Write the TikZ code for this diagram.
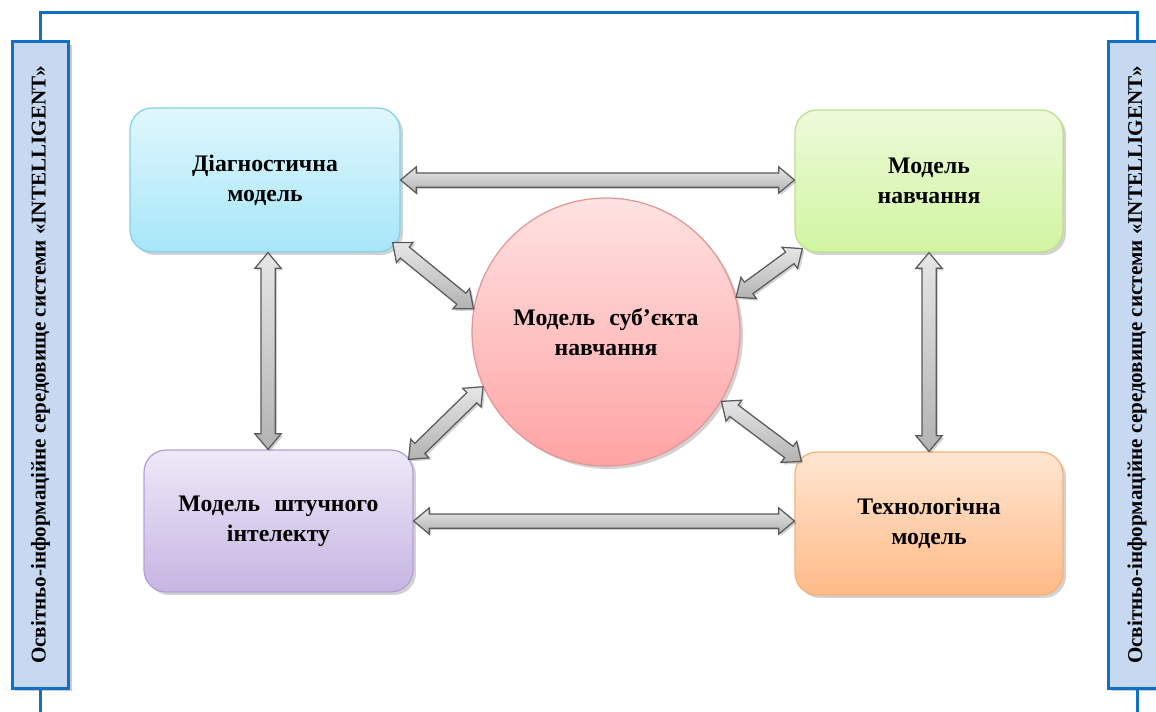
\documentclass[tikz,border=0pt]{standalone}
\usepackage{fontspec}
\setmainfont{Liberation Serif}
\usetikzlibrary{calc,shapes.arrows,shadows}
\definecolor{frameblue}{HTML}{1170C4}
\definecolor{sidefill}{HTML}{C6D9F1}
\definecolor{arrborder}{HTML}{5A5A5A}
\newcommand\sidefont{\bfseries\fontsize{12}{14}\selectfont}
\tikzset{
  x=0.02cm, y=-0.02cm,
  framepath/.style={draw=frameblue, line width=0.6mm},
  sidebox/.style={draw=frameblue, fill=sidefill, line width=0.6mm, minimum width=11.4mm, minimum height=129.4mm, inner sep=0pt,
     drop shadow={shadow xshift=0.6mm, shadow yshift=-0.6mm, opacity=0.35, fill=black!60}},
  modelbox/.style={rounded corners=4.4mm, line width=0.25mm, align=center, inner sep=2pt,
     font=\bfseries\fontsize{13.5}{17}\selectfont,
     drop shadow={shadow xshift=0.6mm, shadow yshift=-0.6mm, opacity=0.25, fill=black!70}},
  dbl/.style={double arrow, draw=arrborder, line width=0.25mm, inner xsep=0pt, inner ysep=1.3mm, minimum width=0pt,
     double arrow head extend=1.2mm, double arrow tip angle=80,
     top color=white!90!black, bottom color=white!70!black, shading angle=0,
     drop shadow={shadow xshift=0.4mm, shadow yshift=-0.4mm, opacity=0.3, fill=black!60}},
}
\newcommand\dblarr[3]{%
  \path let \p1=#2, \p2=#3, \n1={atan2(\y2-\y1,\x2-\x1)}, \n2={veclen(\x2-\x1,\y2-\y1)} in
    node[dbl, rotate=\n1, minimum height=\n2] (#1) at ($(\p1)!0.5!(\p2)$) {};}
\begin{document}
\begin{tikzpicture}
\useasboundingbox (0,0) rectangle (1156,711);
% sidebars
\node[sidebox] (L) at (40.5,365) {\rotatebox{90}{\sidefont Освітньо-інформаційне середовище системи «INTELLIGENT»}};
\node[sidebox] (R) at (1137,365) {\rotatebox{90}{\sidefont Освітньо-інформаційне середовище системи «INTELLIGENT»}};
\draw[framepath] (L.north) -- ++(0,-28) -| (R.north);
\draw[framepath] (L.south) -- ++(0,30);
\draw[framepath] (R.south) -- ++(0,30);
% model boxes
\node[modelbox, draw={rgb,255:red,134;green,207;blue,228}, top color={rgb,255:red,224;green,247;blue,253}, bottom color={rgb,255:red,166;green,230;blue,249},
  minimum width=54mm, minimum height=28.8mm] (diag) at (265,180) {Діагностична\\модель};
\node[modelbox, draw={rgb,255:red,190;green,224;blue,140}, top color={rgb,255:red,238;green,250;blue,219}, bottom color={rgb,255:red,208;green,245;blue,160},
  minimum width=53.6mm, minimum height=28.4mm] (learn) at (929,181) {Модель\\навчання};
\node[modelbox, draw={rgb,255:red,180;green,160;blue,215}, top color={rgb,255:red,238;green,232;blue,247}, bottom color={rgb,255:red,198;green,181;blue,227},
  minimum width=53.8mm, minimum height=28.4mm] (ai) at (278.5,521) {Модель\hspace{0.6em}штучного\\інтелекту};
\node[modelbox, draw={rgb,255:red,247;green,176;blue,120}, top color={rgb,255:red,255;green,230;blue,210}, bottom color={rgb,255:red,255;green,186;blue,134},
  minimum width=53.6mm, minimum height=28.6mm] (tech) at (929,523.5) {Технологічна\\модель};
\node[modelbox, circle, draw={rgb,255:red,227;green,150;blue,150}, top color={rgb,255:red,255;green,226;blue,226}, bottom color={rgb,255:red,255;green,163;blue,163},
  minimum size=53.6mm, inner sep=0pt] (subj) at (606,332) {Модель\hspace{0.6em}суб’єкта\\навчання};
% connectors
\coordinate (a3s) at ($(diag.south)+(3,0)$);
\dblarr{a1}{(diag.east)}{(diag.east -| learn.west)}
\dblarr{a2}{(ai.east)}{(ai.east -| tech.west)}
\dblarr{a3}{(a3s)}{(a3s |- ai.north)}
\dblarr{a4}{(learn.south)}{(learn.south |- tech.north)}
\dblarr{a5}{($(diag.south east)+(-8,-10)$)}{(subj.170)}
\dblarr{a6}{($(learn.south west)+(8,-4)$)}{(subj.15)}
\dblarr{a7}{($(ai.north east)+(-5,10)$)}{(subj.204)}
\dblarr{a8}{($(tech.north west)+(7,10)$)}{(subj.-31)}
\end{tikzpicture}
\end{document}
